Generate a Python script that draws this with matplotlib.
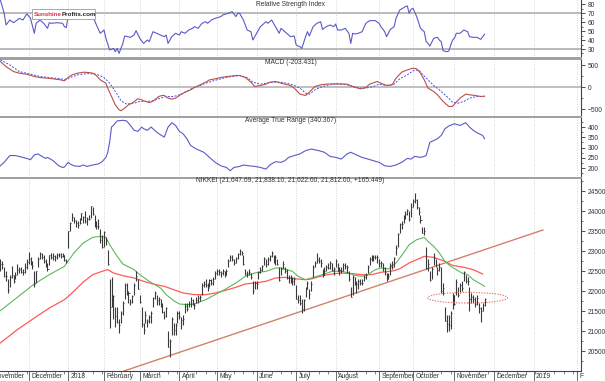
import matplotlib
matplotlib.use("Agg")
import matplotlib.pyplot as plt
from matplotlib.patches import Ellipse, Rectangle
from matplotlib.ticker import MultipleLocator, FixedLocator
from matplotlib.transforms import offset_copy

plt.rcParams["font.family"] = ["Liberation Sans Narrow", "Liberation Sans", "DejaVu Sans"]

# x axis is the trading-day index (0 = 8 Nov 2017, 258 = 26 Nov 2018)
month_starts = [-4, 16, 37, 56, 75, 96, 116, 137, 158, 179, 202, 220, 242, 263, 284, 307]
month_labels = ["November", "December", "2018", "February", "March", "April", "May", "June",
                "July", "August", "September", "October", "November", "December", "2019", "F"]

# NIKKEI daily bars
closes = [
    22650, 22680, 22681, 22380, 22380, 22028, 22351, 22397, 22261, 22417,
    22523, 22550, 22495, 22487, 22597, 22725, 22819, 22707, 22622, 22177,
    22498, 22811, 22938, 22866, 22758, 22694, 22553, 22901, 22868, 22892,
    22866, 22902, 22939, 22892, 22911, 22784, 22765, 23506, 23715, 23850,
    23788, 23711, 23654, 23715, 23952, 23868, 23763, 23808, 23816, 24124,
    23940, 23669, 23631, 23629, 23291, 23098, 23486, 23274, 22682, 21610,
    21645, 21891, 21382, 21245, 21154, 21464, 21720, 22150, 21925, 21970,
    21737, 21893, 22153, 22389, 22068, 21724, 21182, 21042, 21418, 21253,
    21368, 21469, 21824, 21968, 21777, 21803, 21676, 21481, 21380, 21591,
    20617, 20766, 21317, 21031, 21160, 21454, 21389, 21292, 21320, 21645,
    21568, 21679, 21795, 21688, 21661, 21779, 21836, 21848, 22159, 22191,
    22163, 22088, 22278, 22215, 22320, 22468, 22508, 22473, 22467, 22509,
    22409, 22497, 22758, 22866, 22818, 22717, 22838, 22930, 23002, 22960,
    22689, 22437, 22451, 22481, 22358, 22018, 22202, 22171, 22475, 22539,
    22626, 22823, 22695, 22804, 22878, 22966, 22738, 22852, 22680, 22279,
    22556, 22693, 22517, 22338, 22342, 22272, 22270, 22305, 21812, 21786,
    21717, 21547, 21788, 22052, 22197, 21932, 22188, 22597, 22697, 22794,
    22764, 22698, 22397, 22510, 22615, 22586, 22712, 22544, 22554, 22746,
    22512, 22526, 22508, 22663, 22644, 22599, 22298, 21858, 22356, 22205,
    22192, 22270, 22200, 22220, 22362, 22410, 22601, 22799, 22813, 22849,
    22870, 22865, 22707, 22697, 22580, 22487, 22307, 22373, 22665, 22605,
    22821, 23095, 23421, 23673, 23675, 23870, 23940, 24034, 23797, 24120,
    24246, 24271, 24111, 23976, 23784, 23470, 23507, 22591, 22695, 22272,
    22549, 22842, 22659, 22533, 22615, 22011, 22091, 21269, 21185, 21149,
    21458, 21920, 21688, 22244, 21898, 22148, 22086, 22487, 22250, 22270,
    21811, 21846, 21804, 21680, 21821, 21583, 21507, 21646, 21812,
]
highs = [
    22760, 22800, 22750, 22620, 22500, 22300, 22420, 22640, 22420, 22480,
    22680, 22600, 22610, 22560, 22700, 22800, 22994, 22870, 22760, 22500,
    22520, 22850, 22990, 22970, 22900, 22800, 22700, 22920, 22950, 22950,
    22900, 22950, 22960, 22950, 22950, 22900, 22800, 23506, 23730, 23952,
    23865, 23780, 23750, 23830, 23960, 23890, 24000, 23870, 23900, 24130,
    24100, 23900, 23750, 23800, 23550, 23400, 23500, 23350, 23040, 22300,
    22350, 21900, 21600, 21600, 21300, 21500, 21750, 22200, 22200, 22000,
    21800, 21900, 22200, 22500, 22300, 21900, 21600, 21200, 21500, 21300,
    21400, 21500, 21850, 22000, 21900, 21850, 21800, 21700, 21500, 21600,
    21000, 20800, 21350, 21200, 21200, 21500, 21500, 21350, 21400, 21700,
    21700, 21750, 21850, 21800, 21700, 21850, 21900, 21900, 22200, 22250,
    22300, 22200, 22300, 22300, 22350, 22500, 22550, 22550, 22500, 22550,
    22500, 22550, 22800, 22900, 22900, 22800, 22850, 22950, 23050, 23000,
    22900, 22550, 22500, 22550, 22450, 22250, 22250, 22250, 22500, 22600,
    22650, 22850, 22800, 22850, 22900, 23000, 22900, 22900, 22800, 22600,
    22600, 22750, 22600, 22550, 22400, 22400, 22350, 22350, 22150, 21900,
    21900, 21800, 21800, 22100, 22250, 22050, 22250, 22650, 22750, 22950,
    22850, 22800, 22550, 22600, 22650, 22700, 22750, 22700, 22600, 22800,
    22700, 22600, 22600, 22700, 22700, 22650, 22500, 22100, 22400, 22350,
    22250, 22300, 22300, 22300, 22400, 22450, 22650, 22850, 22900, 22900,
    22900, 22900, 22800, 22750, 22700, 22600, 22450, 22450, 22700, 22750,
    22850, 23150, 23450, 23700, 23750, 23900, 24000, 24050, 24000, 24200,
    24300, 24448, 24300, 24100, 23900, 23600, 23600, 23100, 22800, 22500,
    22600, 22950, 22800, 22600, 22700, 22600, 22200, 21600, 21400, 21400,
    21500, 21950, 21900, 22300, 22100, 22200, 22250, 22500, 22400, 22350,
    22100, 21950, 21900, 21850, 21900, 21700, 21600, 21700, 21838,
]
lows = [
    22560, 22520, 22550, 22350, 22260, 21970, 22100, 22330, 22210, 22300,
    22420, 22460, 22450, 22400, 22450, 22560, 22680, 22650, 22550, 22120,
    22200, 22600, 22800, 22800, 22700, 22600, 22500, 22650, 22800, 22790,
    22750, 22800, 22850, 22840, 22850, 22750, 22700, 23073, 23520, 23750,
    23700, 23600, 23580, 23680, 23780, 23700, 23700, 23650, 23780, 23830,
    23900, 23600, 23550, 23550, 23200, 23090, 23100, 23150, 22650, 21080,
    21600, 21300, 21100, 21200, 20950, 21200, 21400, 21800, 21900, 21700,
    21650, 21700, 21900, 22250, 22050, 21700, 21100, 20937, 21200, 21100,
    21200, 21200, 21600, 21800, 21650, 21650, 21600, 21450, 21300, 21350,
    20600, 20347, 20900, 20900, 20900, 21200, 21300, 21050, 21150, 21450,
    21500, 21600, 21600, 21650, 21550, 21700, 21700, 21750, 21900, 22100,
    22100, 22000, 22100, 22150, 22150, 22300, 22400, 22400, 22350, 22400,
    22350, 22400, 22600, 22750, 22750, 22650, 22700, 22800, 22900, 22900,
    22650, 22400, 22350, 22400, 22300, 21930, 22050, 22050, 22300, 22450,
    22500, 22650, 22600, 22650, 22750, 22850, 22700, 22650, 22650, 22250,
    22400, 22550, 22450, 22300, 22200, 22200, 22150, 22150, 21800, 21700,
    21650, 21460, 21500, 21850, 22050, 21800, 22000, 22350, 22600, 22700,
    22700, 22600, 22350, 22400, 22500, 22550, 22550, 22500, 22400, 22600,
    22500, 22400, 22450, 22500, 22550, 22450, 22250, 21850, 21900, 22150,
    21950, 22050, 22150, 22150, 22250, 22300, 22450, 22650, 22750, 22750,
    22800, 22700, 22600, 22600, 22500, 22400, 22250, 22300, 22400, 22550,
    22600, 22900, 23100, 23450, 23550, 23700, 23800, 23900, 23750, 23850,
    24100, 24200, 24050, 23900, 23700, 23450, 23400, 22550, 22500, 22250,
    22300, 22650, 22600, 22400, 22500, 21950, 21900, 21250, 20971, 21000,
    21050, 21550, 21650, 21900, 21850, 21950, 22000, 22250, 22200, 22150,
    21500, 21700, 21700, 21600, 21650, 21450, 21240, 21500, 21622,
]

# moving averages
ma_fast_idx = [1, 19, 27, 35, 40, 45, 50, 54, 57, 59, 63, 66, 72, 75, 80, 86, 89, 93, 96,
               100, 104, 110, 115, 120, 126, 131, 136, 142, 147, 150, 156, 159, 163, 166,
               172, 177, 182, 186, 189, 193, 196, 200, 203, 207, 211, 215, 218, 222, 226,
               228, 231, 234, 237, 240, 243, 246, 249, 252, 256, 258]
ma_fast = [21517, 22183, 22416, 22624, 22958, 23208, 23349, 23374, 23349, 23166, 22874,
           22683, 22541, 22416, 22250, 22083, 21917, 21767, 21683, 21667, 21683, 21791,
           21917, 22041, 22208, 22375, 22458, 22500, 22583, 22583, 22500, 22375, 22291,
           22333, 22416, 22500, 22500, 22458, 22400, 22375, 22416, 22541, 22583, 22560,
           22708, 22958, 23166, 23291, 23349, 23249, 23124, 22958, 22749, 22624, 22541,
           22458, 22416, 22291, 22183, 22125]
ma_slow_idx = [1, 10, 19, 27, 35, 40, 45, 50, 56, 58, 61, 66, 72, 77, 82, 88, 93, 98, 104,
               110, 115, 120, 126, 131, 136, 142, 147, 152, 157, 163, 166, 172, 177, 182,
               188, 193, 198, 203, 210, 213, 218, 224, 226, 231, 236, 241, 247, 252, 257]
ma_slow = [20709, 21042, 21333, 21583, 21791, 22000, 22233, 22416, 22516, 22541, 22458,
           22391, 22333, 22250, 22183, 22125, 22041, 21958, 21917, 21917, 21958, 22017,
           22100, 22183, 22208, 22250, 22333, 22350, 22316, 22291, 22308, 22391, 22433,
           22458, 22441, 22416, 22416, 22475, 22516, 22566, 22708, 22833, 22874, 22849,
           22766, 22649, 22600, 22541, 22433]

# support line and marked zone
trend_idx = [66.6, 289]
trend_price = [20008, 23533]
zone_center = (249, 21840)
zone_size = (42.3, 267)

# Relative Strength Index
rsi_idx = [1, 3, 4, 6, 8, 10, 11, 13, 15, 17, 19, 20, 22, 24, 26, 27, 28, 31, 34, 35, 36,
           37, 40, 43, 46, 49, 51, 52, 54, 56, 57, 59, 61, 62, 63, 64, 66, 67, 70, 72, 73,
           75, 77, 79, 80, 82, 84, 86, 88, 89, 90, 92, 94, 96, 97, 99, 101, 103, 104, 106,
           108, 110, 111, 113, 115, 118, 119, 122, 124, 126, 127, 128, 130, 132, 134, 135,
           137, 139, 142, 143, 145, 147, 149, 150, 153, 155, 157, 158, 160, 161, 163, 164,
           165, 167, 169, 171, 172, 174, 176, 178, 179, 180, 182, 184, 186, 187, 188, 189,
           191, 193, 195, 197, 200, 202, 203, 205, 206, 208, 210, 211, 213, 216, 217, 218,
           219, 220, 222, 224, 226, 227, 228, 229, 231, 233, 234, 235, 236, 238, 239, 241,
           242, 243, 245, 247, 249, 250, 252, 254, 256, 257, 258]
rsi = [85.0, 70.0, 56.9, 62.5, 59.5, 62.5, 64.4, 62.5, 69.3, 64.4, 47.6, 58.8, 62.5, 58.8,
       53.2, 59.5, 58.8, 59.5, 58.8, 55.0, 54.0, 68.0, 70.0, 66.0, 68.0, 71.0, 62.0, 56.9,
       47.6, 51.3, 42.0, 28.9, 30.7, 27.0, 30.7, 25.1, 36.3, 44.6, 43.1, 45.7, 50.6, 42.0,
       36.3, 40.1, 38.2, 49.4, 47.6, 45.7, 43.8, 45.7, 36.3, 43.8, 47.6, 45.7, 49.4, 47.6,
       51.3, 53.2, 55.0, 53.2, 58.8, 60.6, 58.8, 62.5, 64.4, 66.3, 68.1, 70.0, 71.9, 66.3,
       70.0, 70.0, 62.5, 51.3, 49.4, 40.1, 47.6, 55.0, 60.6, 58.8, 62.5, 55.0, 47.6, 53.2,
       47.6, 43.8, 44.6, 34.5, 32.6, 30.7, 43.8, 49.4, 44.6, 55.0, 58.8, 60.6, 52.0, 55.0,
       56.9, 55.0, 58.0, 51.3, 51.3, 53.2, 47.6, 36.3, 47.6, 46.8, 47.6, 49.4, 58.8, 61.8,
       61.8, 58.8, 55.0, 49.4, 43.8, 52.0, 55.0, 64.4, 73.7, 77.5, 78.2, 70.0, 74.5, 75.6,
       66.3, 53.2, 49.4, 38.2, 36.3, 33.3, 42.0, 43.1, 40.1, 38.2, 28.1, 27.0, 27.7, 40.1,
       42.0, 47.6, 47.6, 51.3, 49.4, 43.8, 43.1, 43.1, 40.8, 43.8, 46.4]

# MACD and signal line
macd_idx = [1, 4, 8, 11, 15, 19, 22, 26, 29, 33, 35, 37, 39, 42, 45, 48, 50, 52, 54, 57,
            58, 60, 62, 64, 65, 67, 69, 71, 72, 74, 76, 78, 80, 81, 83, 85, 87, 88, 90, 92,
            94, 96, 99, 102, 104, 107, 110, 112, 115, 118, 120, 123, 126, 128, 131, 134,
            136, 139, 142, 144, 147, 150, 152, 155, 157, 160, 163, 165, 168, 171, 174, 178,
            181, 185, 188, 192, 195, 197, 201, 203, 206, 209, 211, 214, 217, 220, 222, 224,
            226, 228, 231, 233, 236, 239, 241, 242, 245, 248, 250, 253, 256, 258]
macd = [579, 466, 353, 316, 293, 241, 218, 203, 188, 165, 143, 218, 278, 316, 338, 331, 316,
        263, 165, 90, -23, -211, -399, -511, -534, -474, -399, -361, -323, -263, -286, -323,
        -346, -338, -286, -211, -188, -188, -248, -271, -248, -188, -113, -60, -8, 53, 113,
        165, 188, 218, 233, 248, 263, 263, 218, 113, 15, 38, 68, 113, 128, 90, 68, 38, -23,
        -158, -188, -113, 15, 53, 68, 75, 75, 68, 15, -38, -8, 68, 128, 90, 38, 53, 203, 338,
        391, 429, 414, 316, 165, -23, -98, -173, -323, -436, -436, -384, -248, -158, -173,
        -188, -211, -203]
signal_idx = [1, 6, 11, 17, 22, 27, 33, 35, 38, 42, 47, 52, 56, 59, 63, 65, 68, 72, 75, 79,
              82, 86, 89, 93, 96, 100, 103, 107, 110, 114, 118, 121, 125, 128, 132, 135, 139,
              142, 146, 149, 153, 157, 160, 163, 165, 168, 171, 174, 178, 181, 185, 188, 192,
              195, 199, 202, 206, 210, 213, 217, 220, 223, 225, 228, 231, 234, 238, 241, 244,
              247, 250, 254, 258]
signal = [617, 504, 353, 293, 241, 218, 188, 173, 218, 278, 308, 293, 218, 90, -158, -308,
          -384, -361, -323, -323, -308, -248, -211, -211, -173, -98, -23, 38, 90, 143, 188,
          218, 248, 263, 218, 113, 68, 90, 113, 113, 90, 38, -23, -135, -158, -60, 0, 38, 68,
          68, 53, 15, -23, -23, 15, 68, 38, 68, 188, 278, 368, 391, 293, 165, 38, -60, -211,
          -338, -361, -323, -248, -211, -211]

# Average True Range
atr_idx = [1, 3, 6, 9, 13, 16, 17, 19, 21, 23, 25, 26, 29, 32, 34, 35, 37, 38, 40, 43, 45,
           47, 50, 53, 55, 57, 58, 59, 60, 61, 63, 66, 68, 70, 72, 74, 76, 77, 79, 81, 84, 86,
           88, 90, 92, 94, 96, 98, 100, 102, 105, 109, 112, 115, 118, 121, 123, 125, 128, 130,
           133, 136, 139, 142, 144, 147, 150, 152, 154, 157, 160, 163, 166, 170, 173, 176, 179,
           182, 185, 187, 190, 193, 196, 199, 202, 205, 208, 211, 214, 217, 219, 221, 224, 226,
           227, 229, 231, 233, 235, 237, 239, 242, 245, 248, 250, 252, 254, 257, 258]
atr = [211, 228, 261, 261, 252, 244, 241, 264, 269, 257, 247, 252, 236, 211, 203, 205, 228,
       220, 211, 208, 215, 208, 215, 220, 231, 252, 277, 326, 400, 408, 430, 433, 430, 408,
       384, 379, 400, 392, 384, 400, 375, 362, 351, 400, 421, 408, 379, 367, 343, 310, 293,
       277, 252, 228, 211, 203, 187, 203, 208, 215, 211, 208, 203, 195, 215, 231, 228, 236,
       252, 261, 269, 285, 293, 285, 277, 257, 252, 244, 269, 277, 264, 252, 244, 236, 228,
       211, 208, 215, 228, 247, 244, 257, 252, 257, 261, 326, 334, 343, 359, 392, 405, 416,
       408, 421, 400, 384, 372, 359, 343]

W, H = 605, 381
fig = plt.figure(figsize=(W / 100, H / 100), dpi=100)
fig.patch.set_facecolor("white")

right_px = 581


def panel(top_px, bottom_px):
    ax = fig.add_axes([0, 1 - bottom_px / H, right_px / W, (bottom_px - top_px) / H])
    ax.set_xlim(0.8, 309.2)
    ax.set_facecolor("white")
    for m in month_starts:
        ax.axvline(m, color="#c8c8c8", lw=0.6, ls=(0, (1, 2)), zorder=0)
    ax.yaxis.tick_right()
    ax.tick_params(axis="y", which="major", direction="out", length=3, width=0.6,
                   labelsize=4.8, pad=2, colors="#333333")
    ax.tick_params(axis="y", which="minor", direction="out", length=1.5, width=0.5,
                   colors="#333333")
    ax.tick_params(axis="x", which="both", bottom=False, labelbottom=False)
    ax.spines["left"].set_visible(False)
    ax.spines["right"].set_color("#444444")
    ax.spines["right"].set_linewidth(0.8)
    for s in ("top", "bottom"):
        ax.spines[s].set_color("#a0a0a0")
        ax.spines[s].set_linewidth(1.4)
    return ax


def title(ax, text):
    ax.text(0.5, 1, text, transform=ax.transAxes, ha="center", va="top", fontsize=4.8,
            color="#333333")


# RSI
ax_rsi = panel(0, 57.5)
ax_rsi.spines["top"].set_visible(False)
ax_rsi.set_ylim(20.5, 84.9)
ax_rsi.axhline(70, color="#b4b4b4", lw=1.3, zorder=1)
ax_rsi.axhline(30, color="#b4b4b4", lw=1.3, zorder=1)
ax_rsi.plot(rsi_idx, rsi, color="#5a5ac8", lw=0.8, zorder=3)
ax_rsi.yaxis.set_major_locator(FixedLocator([30, 40, 50, 60, 70, 80]))
ax_rsi.yaxis.set_minor_locator(MultipleLocator(5))
ax_rsi.text(0.5, 0.985, "Relative Strength Index", transform=ax_rsi.transAxes, ha="center",
            va="top", fontsize=4.8, color="#333333")

# logo box, drawn inside the RSI axes so the texts sit above it
ax_rsi.add_patch(Rectangle((32 / W, 1 - 19 / H), 63 / W, 10 / H, transform=fig.transFigure,
                           facecolor="white", edgecolor="#9a9a9a", lw=0.6, zorder=10,
                           clip_on=False))
logo1 = ax_rsi.text(33.5 / W, 1 - 14.3 / H, "Sunshine", transform=fig.transFigure,
                    color="#d8334a", fontsize=4.5, fontweight="bold", va="center", ha="left",
                    zorder=11, family=["Liberation Sans", "DejaVu Sans"])
ax_rsi.annotate("Profits.com", xy=(1, 0.5), xycoords=logo1, xytext=(0.3, 0),
                textcoords="offset points", color="#222222", fontsize=4.5, fontweight="bold",
                va="center", ha="left", zorder=11, family=["Liberation Sans", "DejaVu Sans"],
                annotation_clip=False)

# MACD
ax_macd = panel(58.5, 117)
ax_macd.set_ylim(-675, 648)
ax_macd.axhline(0, color="#b4b4b4", lw=1.2, zorder=1)
ax_macd.plot(signal_idx, signal, color="#4a4af0", lw=0.7, ls=(0, (2, 1.5)), zorder=3)
ax_macd.plot(macd_idx, macd, color="#b8504a", lw=0.8, zorder=4)
ax_macd.yaxis.set_major_locator(FixedLocator([-500, 0, 500]))
ax_macd.yaxis.set_minor_locator(MultipleLocator(250))
title(ax_macd, "MACD (-203.431)")

# ATR
ax_atr = panel(117, 177.5)
ax_atr.set_ylim(154, 449)
ax_atr.plot(atr_idx, atr, color="#5a5ac8", lw=0.8, zorder=3)
ax_atr.yaxis.set_major_locator(FixedLocator([200, 250, 300, 350, 400]))
ax_atr.yaxis.set_minor_locator(MultipleLocator(25))
title(ax_atr, "Average True Range (340.367)")

# price
ax = panel(177.5, 371)
ax.set_ylim(20008, 24845)
days = list(range(len(closes)))
ax.plot(trend_idx, trend_price, color="#d4806c", lw=1.0, zorder=2)
ax.plot(ma_slow_idx, ma_slow, color="#ff5a5a", lw=0.9, zorder=3)
ax.plot(ma_fast_idx, ma_fast, color="#5cb85c", lw=0.8, zorder=3)
ax.vlines(days, lows, highs, color="#3a3a3a", lw=0.8, zorder=4)
ax.hlines(closes, [d for d in days], [d + 0.55 for d in days], color="#3a3a3a", lw=0.6,
          zorder=4)
ax.add_patch(Ellipse(zone_center, zone_size[0], zone_size[1], fill=False,
                     edgecolor="#e07868", lw=0.8, ls=(0, (1.2, 1.2)), zorder=5))
ax.yaxis.set_major_locator(FixedLocator([20500, 21000, 21500, 22000, 22500, 23000, 23500,
                                         24000, 24500]))
ax.yaxis.set_minor_locator(MultipleLocator(250))
title(ax, "NIKKEI (21,647.69, 21,838.10, 21,622.60, 21,812.00, +165.449)")
ax.spines["bottom"].set_color("#444444")
ax.spines["bottom"].set_linewidth(0.8)

# x axis: month ticks and weekly minor ticks
ax.tick_params(axis="x", which="major", bottom=True, direction="out", length=9, width=0.6,
               colors="#555555")
ax.tick_params(axis="x", which="minor", bottom=True, direction="out", length=2.5, width=0.5,
               colors="#555555")
ax.xaxis.set_major_locator(FixedLocator(month_starts))
ax.xaxis.set_minor_locator(MultipleLocator(5))
label_tr = offset_copy(ax.get_xaxis_transform(), fig=fig, x=2.5, y=-1.5, units="dots")
for m, lab in zip(month_starts, month_labels):
    ax.text(m, 0, lab, transform=label_tr, ha="left", va="top", fontsize=4.9,
            color="#333333", clip_on=False)

fig.savefig("out.png", dpi=100, facecolor="white")
